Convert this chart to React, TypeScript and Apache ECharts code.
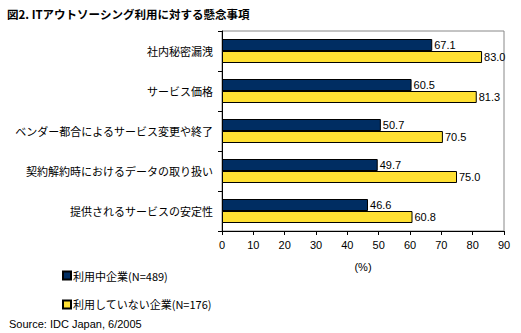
import React, { useEffect, useRef } from "react";
import * as echarts from "echarts";

const categories = [
  "社内秘密漏洩",
  "サービス価格",
  "ベンダー都合によるサービス変更や終了",
  "契約解約時におけるデータの取り扱い",
  "提供されるサービスの安定性",
];
const usingValues = [67.1, 60.5, 50.7, 49.7, 46.6];
const notUsingValues = [83.0, 81.3, 70.5, 75.0, 60.8];
const seriesNames = ["利用中企業(N=489)", "利用していない企業(N=176)"];
const xTicks = { min: 0, max: 90, interval: 10 };

const FONT = "'Noto Sans CJK JP', 'DejaVu Sans', sans-serif";

export default function App() {
  const ref = useRef<HTMLDivElement>(null);
  useEffect(() => {
    if (!ref.current) return;
    const chart = echarts.init(ref.current, undefined, { renderer: "svg" });
    const labelCfg = {
      show: true,
      position: "right" as const,
      distance: 2,
      color: "#000",
      fontSize: 11,
      fontFamily: "'Liberation Sans', Arial, sans-serif",
      formatter: (p: any) => Number(p.value).toFixed(1),
    };
    chart.setOption({
      animation: false,
      backgroundColor: "#fff",
      textStyle: { fontFamily: FONT },
      title: [
        {
          text: "図2. ITアウトソーシング利用に対する懸念事項",
          left: 2,
          top: 3,
          textStyle: { fontSize: 11.5, fontWeight: "bold", color: "#000", fontFamily: FONT },
        },
        {
          text: "Source: IDC Japan, 6/2005",
          left: 4,
          top: 313,
          textStyle: { fontSize: 11, fontWeight: "normal", color: "#000", fontFamily: "'Liberation Sans', Arial, sans-serif" },
        },
      ],
      legend: {
        orient: "vertical",
        left: 57,
        top: 265,
        itemWidth: 8,
        itemHeight: 8,
        itemGap: 18,
        icon: "rect",
        textStyle: { fontSize: 11, color: "#000", fontFamily: FONT, padding: [0, 0, 0, -3] },
        data: seriesNames,
      },
      grid: {
        left: 222,
        right: 17,
        top: 31,
        bottom: 102,
        show: true,
        borderColor: "#888",
        borderWidth: 1,
      },
      xAxis: {
        type: "value",
        min: xTicks.min,
        max: xTicks.max,
        interval: xTicks.interval,
        name: "(%)",
        nameLocation: "middle",
        nameGap: 30,
        nameTextStyle: { fontSize: 11, color: "#000", fontFamily: "'Liberation Sans', Arial, sans-serif" },
        splitLine: { show: false },
        axisLine: { show: true, lineStyle: { color: "#000" } },
        axisTick: { show: true, length: 4, lineStyle: { color: "#000" } },
        axisLabel: { fontSize: 11, color: "#000", margin: 8, fontFamily: "'Liberation Sans', Arial, sans-serif" },
      },
      yAxis: {
        type: "category",
        inverse: true,
        data: categories,
        axisLine: { show: true, lineStyle: { color: "#000" } },
        axisTick: { show: true, length: 4, lineStyle: { color: "#000" } },
        axisLabel: { fontSize: 11, color: "#000", margin: 9, fontFamily: FONT },
      },
      series: [
        {
          name: seriesNames[0],
          type: "bar",
          data: usingValues,
          barCategoryGap: "40%",
          barGap: "0%",
          itemStyle: { color: "#002D62", borderColor: "#000", borderWidth: 1 },
          label: labelCfg,
        },
        {
          name: seriesNames[1],
          type: "bar",
          data: notUsingValues,
          barCategoryGap: "40%",
          barGap: "0%",
          itemStyle: { color: "#FFE033", borderColor: "#000", borderWidth: 1 },
          label: labelCfg,
        },
      ],
    });
    return () => chart.dispose();
  }, []);
  return <div ref={ref} style={{ width: 521, height: 333, position: "absolute", left: 0, top: 0 }} />;
}
